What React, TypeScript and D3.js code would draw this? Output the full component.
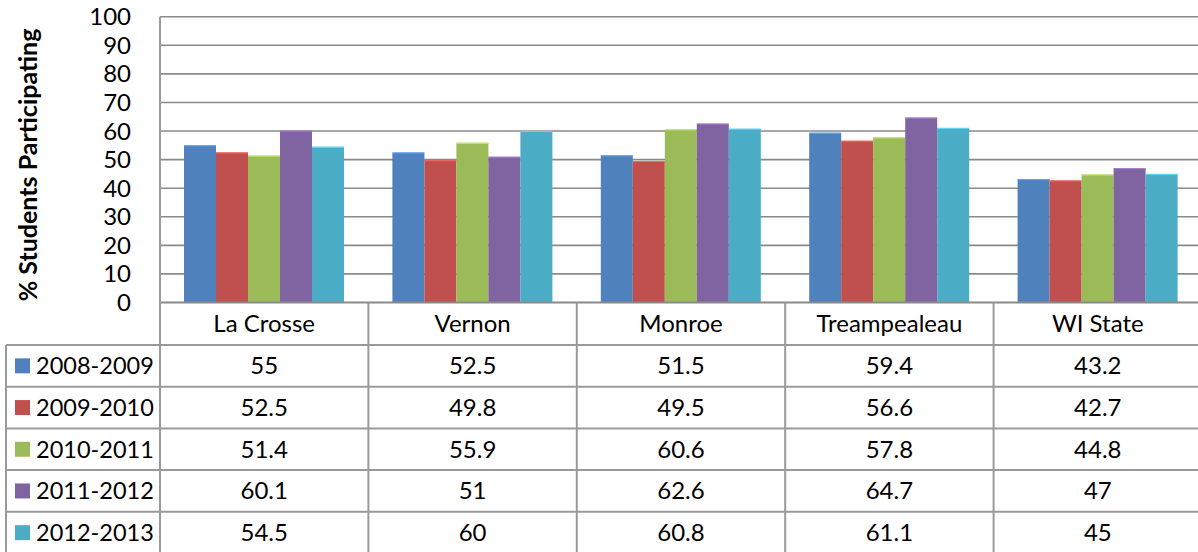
import React from 'react';
import * as d3 from 'd3';

const categories = ['La Crosse', 'Vernon', 'Monroe', 'Treampealeau', 'WI State'];
const seriesNames = ['2008-2009', '2009-2010', '2010-2011', '2011-2012', '2012-2013'];
const s2008 = [55, 52.5, 51.5, 59.4, 43.2];
const s2009 = [52.5, 49.8, 49.5, 56.6, 42.7];
const s2010 = [51.4, 55.9, 60.6, 57.8, 44.8];
const s2011 = [60.1, 51, 62.6, 64.7, 47];
const s2012 = [54.5, 60, 60.8, 61.1, 45];
const seriesValues = [s2008, s2009, s2010, s2011, s2012];
const colors = ['#4F81BD', '#C0504D', '#9BBB59', '#8064A2', '#4BACC6'];
const yTicks = [0, 10, 20, 30, 40, 50, 60, 70, 80, 90, 100];

const W = 1198;
const H = 552;
const plotLeft = 160;
const catW = 208.4;
const plotTop = 16.7;
const plotBottom = 302.5;
const headerBottom = 345;
const rowH = 41.7;
const tableLeft = 6;
const font = 'Lato, "Open Sans", sans-serif';
const gridColor = '#8a8a8a';
const tableColor = '#9a9a9a';

export default function App() {
  React.useEffect(() => {
    document.body.style.margin = '0';
  }, []);

  const x = d3.scaleBand<string>().domain(categories).range([plotLeft, plotLeft + catW * categories.length]).padding(0);
  const inner = d3.scaleBand<string>().domain(seriesNames).range([24, 24 + 160]).padding(0);
  const y = d3.scaleLinear().domain([0, 100]).range([plotBottom, plotTop]);

  return (
    <svg width={W} height={H} style={{ display: 'block', position: 'absolute', left: 0, top: 0, background: '#fff' }}>
      {/* gridlines */}
      {yTicks.filter(t => t > 0).map(t => (
        <line key={'g' + t} x1={plotLeft} x2={W} y1={y(t)} y2={y(t)} stroke={gridColor} strokeWidth={1.6} />
      ))}
      {/* y tick labels */}
      {yTicks.map(t => (
        <text key={'t' + t} x={131} y={y(t) + 8.5} textAnchor="end" fontFamily={font} fontSize={24} fill="#000">{t}</text>
      ))}
      {/* axis title */}
      <text
        transform={`translate(37, 165) rotate(-90)`}
        textAnchor="middle"
        fontFamily={font}
        fontWeight="bold"
        fontSize={25}
        fill="#000"
      >% Students Participating</text>
      {/* bars */}
      {seriesValues.map((vals, si) => (
        <g key={'s' + si}>
          {vals.map((v, ci) => {
            const bx = (x(categories[ci]) as number) + (inner(seriesNames[si]) as number);
            const bw = inner.bandwidth();
            const by = y(v);
            const lighter = d3.color(colors[si])!.brighter(0.7).formatHex();
            return (
              <g key={ci}>
                <rect x={bx} y={by} width={bw} height={plotBottom - by} fill={colors[si]} />
                <line x1={bx} x2={bx + bw} y1={by + 0.5} y2={by + 0.5} stroke={lighter} strokeWidth={1} />
              </g>
            );
          })}
        </g>
      ))}
      {/* zero axis line */}
      <line x1={plotLeft} x2={W} y1={plotBottom} y2={plotBottom} stroke={gridColor} strokeWidth={2} />
      {/* left axis line */}
      <line x1={plotLeft} x2={plotLeft} y1={plotTop} y2={H} stroke={tableColor} strokeWidth={2} />
      {/* table vertical dividers */}
      {categories.map((c, i) => i > 0 ? (
        <line key={'v' + c} x1={x(c)} x2={x(c)} y1={plotBottom} y2={H} stroke={tableColor} strokeWidth={2} />
      ) : null)}
      <line x1={tableLeft} x2={tableLeft} y1={headerBottom} y2={H} stroke={tableColor} strokeWidth={2} />
      {/* table horizontal lines */}
      {seriesNames.map((s, i) => (
        <line key={'h' + s} x1={tableLeft} x2={W} y1={headerBottom + i * rowH} y2={headerBottom + i * rowH} stroke={tableColor} strokeWidth={2} />
      ))}
      {/* category header labels */}
      {categories.map(c => (
        <text key={'c' + c} x={(x(c) as number) + catW / 2} y={332} textAnchor="middle" fontFamily={font} fontSize={24} fill="#000">{c}</text>
      ))}
      {/* legend rows and values */}
      {seriesNames.map((s, si) => {
        const rowTop = headerBottom + si * rowH;
        const cy = rowTop + rowH / 2;
        return (
          <g key={'r' + s}>
            <rect x={15} y={cy - 7.5} width={15} height={15} fill={colors[si]} />
            <text x={36} y={cy + 8.5} fontFamily={font} fontSize={23.5} fill="#000">{s}</text>
            {seriesValues[si].map((v, ci) => (
              <text key={ci} x={(x(categories[ci]) as number) + catW / 2} y={cy + 8.5} textAnchor="middle" fontFamily={font} fontSize={24} fill="#000">{v}</text>
            ))}
          </g>
        );
      })}
    </svg>
  );
}
